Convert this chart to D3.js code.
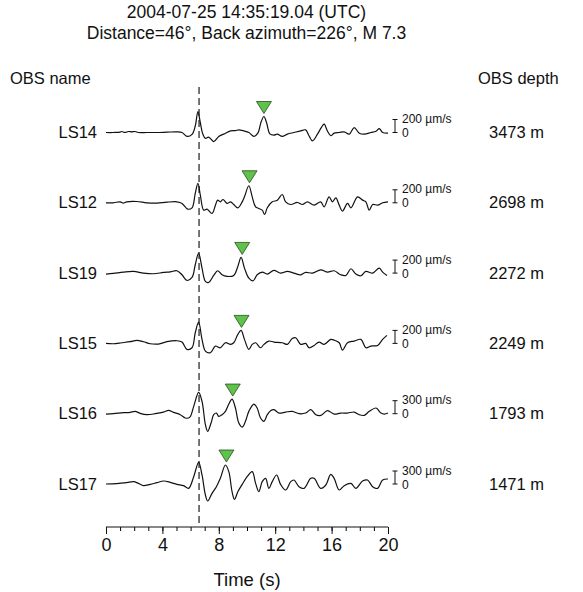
<!DOCTYPE html>
<html>
<head>
<meta charset="utf-8">
<script src="https://cdn.jsdelivr.net/npm/d3@7"></script>
<style>
  html, body { margin: 0; padding: 0; background: #fff; }
  svg { display: block; font-family: "Liberation Sans", Arial, sans-serif; }
</style>
</head>
<body>
<svg id="chart" width="583" height="592"></svg>
<script>
// Station metadata, top to bottom
const stations = ["LS14", "LS12", "LS19", "LS15", "LS16", "LS17"];
const depths = [3473, 2698, 2272, 2249, 1793, 1471];       // m
const scaleBars = [200, 200, 200, 200, 300, 300];          // µm/s per scale bar
const picks = [11.2, 10.18, 9.66, 9.61, 8.99, 8.54];        // picked arrival times (s)
const pArrival = 6.6;                                       // reference arrival (s)
const timeTicks = [0, 4, 8, 12, 16, 20];

// Vertical velocity traces: [time (s), velocity (µm/s)]
const ls14 = [[0,0],[0.52,0],[1.0,5],[1.12,15],[1.35,0],[1.59,15],[1.83,10],[2.06,15],[2.3,0],[2.89,0],[3.61,0],[4.32,5],[5.03,10],[5.39,0],[5.74,-60],[6.1,-30],[6.33,100],[6.52,323],[6.69,150],[6.86,-20],[7.05,-90],[7.28,-70],[7.64,-139],[8.0,-60],[8.35,-25],[8.83,25],[9.18,30],[9.42,40],[9.77,25],[10.13,0],[10.49,-60],[10.77,-10],[11.01,170],[11.2,246],[11.39,150],[11.62,-20],[11.91,-40],[12.15,-25],[12.5,-60],[12.86,-25],[13.33,0],[13.81,25],[14.16,40],[14.4,-50],[14.64,-128],[15.0,-25],[15.28,80],[15.47,128],[15.71,20],[15.94,-50],[16.18,-10],[16.54,0],[16.89,10],[17.25,-25],[17.6,75],[17.96,-10],[18.32,-25],[18.79,0],[19.15,20],[19.38,60],[19.62,0],[20,-10]];
const ls12 = [[0,0],[0.52,0],[1.0,15],[1.23,-5],[1.47,15],[2.18,20],[2.89,0],[3.61,-5],[4.32,10],[5.03,15],[5.39,-10],[5.79,-97],[6.1,-77],[6.33,144],[6.52,298],[6.69,118],[6.93,-113],[7.16,-97],[7.52,-164],[7.76,-36],[7.92,41],[8.11,15],[8.3,51],[8.59,-10],[8.83,15],[9.06,-26],[9.35,-77],[9.66,15],[9.82,92],[10.13,262],[10.37,92],[10.61,-62],[10.84,-87],[11.08,-113],[11.25,-180],[11.44,-77],[11.79,15],[12.15,41],[12.5,128],[12.74,15],[13.1,-26],[13.57,5],[13.93,-26],[14.28,15],[14.76,-36],[15.23,15],[15.47,-62],[15.82,92],[16.06,15],[16.3,77],[16.54,-36],[16.77,-128],[17.13,-10],[17.37,-77],[17.84,92],[18.2,41],[18.43,15],[18.67,-113],[18.91,-26],[19.26,-36],[19.62,0],[20,15]];
const ls19 = [[0,-15],[0.52,-5],[1.23,15],[1.95,26],[2.66,0],[3.37,-10],[4.08,10],[4.56,20],[5.03,36],[5.39,-26],[5.74,-113],[6.1,-67],[6.33,128],[6.57,308],[6.81,77],[7.05,-128],[7.28,-144],[7.64,-36],[7.92,36],[8.23,-26],[8.59,-51],[9.06,-36],[9.35,103],[9.58,241],[9.82,77],[10.13,-77],[10.44,-118],[10.72,-26],[11.08,15],[11.44,-15],[11.91,41],[12.38,0],[12.86,26],[13.33,0],[13.81,-26],[14.16,10],[14.64,0],[15.23,51],[15.71,15],[16.18,36],[16.65,-26],[17.01,-36],[17.37,67],[17.72,-15],[18.08,-41],[18.43,26],[18.91,0],[19.38,77],[19.62,15],[19.93,-36]];
const ls15 = [[0,0],[0.52,-5],[1.12,10],[1.71,26],[2.18,46],[2.66,26],[3.13,-5],[3.72,-10],[4.32,26],[5.03,41],[5.39,21],[5.74,-92],[6.1,-67],[6.33,164],[6.57,328],[6.81,62],[7.05,-118],[7.4,-144],[7.76,-41],[8.11,-67],[8.47,10],[8.83,-15],[9.06,10],[9.35,139],[9.58,200],[9.82,62],[10.13,-92],[10.37,-15],[10.61,10],[10.96,-67],[11.2,-15],[11.55,36],[11.91,21],[12.5,10],[12.86,-15],[13.21,77],[13.45,87],[13.81,-15],[14.16,0],[14.4,-67],[14.76,-31],[15.11,21],[15.47,-15],[15.94,62],[16.18,51],[16.54,10],[16.77,-103],[17.13,10],[17.6,36],[18.08,62],[18.43,-67],[18.79,-41],[19.26,-31],[19.62,62],[19.93,123]];
const ls16 = [[0,-8],[0.52,0],[1.23,23],[1.71,31],[2.06,54],[2.42,8],[2.89,-23],[3.49,0],[4.08,38],[4.44,77],[4.79,31],[5.27,-23],[5.62,-100],[5.93,-85],[6.22,169],[6.57,492],[6.81,285],[7.05,-254],[7.21,-408],[7.45,-215],[7.64,-23],[7.83,15],[8.0,-62],[8.23,-23],[8.47,54],[8.71,223],[8.94,338],[9.18,131],[9.42,-215],[9.66,-308],[9.89,-177],[10.13,54],[10.49,223],[10.72,131],[10.96,-100],[11.2,-177],[11.44,-23],[11.67,69],[11.91,92],[12.27,15],[12.74,38],[13.21,54],[13.69,0],[14.16,15],[14.52,92],[14.88,-23],[15.23,-38],[15.71,69],[16.18,-8],[16.65,15],[17.13,15],[17.6,38],[17.96,-23],[18.32,-38],[18.67,54],[19.15,131],[19.5,15],[19.74,-8],[20,15]];
const ls17 = [[0,0],[0.76,8],[1.47,31],[1.95,54],[2.3,15],[2.66,-38],[3.13,-8],[3.61,31],[4.08,69],[4.56,38],[5.03,-8],[5.5,-38],[5.86,-100],[6.22,169],[6.57,500],[6.81,208],[7.05,-254],[7.21,-392],[7.52,-215],[7.83,-62],[8.11,131],[8.47,438],[8.71,285],[8.94,-177],[9.11,-354],[9.35,-177],[9.66,-8],[10.01,169],[10.37,285],[10.61,15],[10.84,-177],[11.08,54],[11.32,131],[11.55,-100],[11.79,54],[12.1,208],[12.38,-8],[12.74,-138],[13.1,54],[13.33,92],[13.69,-62],[14.05,-100],[14.52,131],[14.76,131],[15.23,-100],[15.59,-23],[15.94,223],[16.18,131],[16.54,-138],[16.89,-38],[17.37,15],[17.72,-100],[18.2,69],[18.55,92],[18.91,-62],[19.26,-100],[19.62,92],[20,115]];
const traces = [ls14, ls12, ls19, ls15, ls16, ls17];

const svg = d3.select("#chart");

const x = d3.scaleLinear().domain([0, 20]).range([106, 388]);
const row = d3.scalePoint().domain(stations).range([132.5, 484]);
const barPx = 13;   // pixel height of one scale bar

// per-trace amplitude scale: scale bar value maps to barPx
const amp = i => d3.scaleLinear()
  .domain([0, scaleBars[i]])
  .range([row(stations[i]), row(stations[i]) - barPx]);

// Title
const title = svg.append("g").attr("font-size", 17.5).attr("fill", "#111").attr("text-anchor", "middle");
title.append("text").attr("x", 246.5).attr("y", 18).text("2004-07-25 14:35:19.04 (UTC)");
title.append("text").attr("x", 246.5).attr("y", 39).text("Distance=46°, Back azimuth=226°, M 7.3");

// Column headers
svg.append("text").attr("x", 10).attr("y", 84).attr("font-size", 16.5).attr("fill", "#111").text("OBS name");
svg.append("text").attr("x", 478).attr("y", 84).attr("font-size", 16.5).attr("fill", "#111").text("OBS depth");

// Reference arrival (dashed)
svg.append("line")
  .attr("x1", x(pArrival)).attr("x2", x(pArrival))
  .attr("y1", 87).attr("y2", 527)
  .attr("stroke", "#555").attr("stroke-width", 1.6)
  .attr("stroke-dasharray", "7,4");

const line = d3.line().curve(d3.curveCatmullRom.alpha(0.5));

stations.forEach((name, i) => {
  const y = amp(i);
  const base = row(name);
  const data = traces[i];

  svg.append("path")
    .attr("d", line(data.map(d => [x(d[0]), y(d[1])])))
    .attr("fill", "none").attr("stroke", "#111").attr("stroke-width", 1.2)
    .attr("stroke-linejoin", "round");

  // station name and depth
  svg.append("text").attr("x", 97).attr("y", base + 5.5).attr("text-anchor", "end")
    .attr("font-size", 16.5).attr("fill", "#111").text(name);
  svg.append("text").attr("x", 489).attr("y", base + 5.5)
    .attr("font-size", 16.5).attr("fill", "#111").text(depths[i] + " m");

  // scale bar
  const bx = 395, y0 = y(0), y1 = y(scaleBars[i]);
  const bar = svg.append("g").attr("stroke", "#111").attr("stroke-width", 1);
  bar.append("line").attr("x1", bx).attr("x2", bx).attr("y1", y0).attr("y2", y1);
  bar.append("line").attr("x1", bx - 2.5).attr("x2", bx + 2.5).attr("y1", y0).attr("y2", y0);
  bar.append("line").attr("x1", bx - 2.5).attr("x2", bx + 2.5).attr("y1", y1).attr("y2", y1);
  svg.append("text").attr("x", 402).attr("y", y1 + 3.5).attr("font-size", 12).attr("fill", "#111")
    .text(scaleBars[i] + " µm/s");
  svg.append("text").attr("x", 402).attr("y", y0 + 4.5).attr("font-size", 12).attr("fill", "#111")
    .text("0");

  // picked arrival marker above the local peak
  const near = data.filter(d => Math.abs(d[0] - picks[i]) < 0.35);
  const peakY = y(d3.max(near, d => d[1]));
  const tip = peakY - 3, px = x(picks[i]);
  svg.append("path")
    .attr("d", `M${px},${tip}L${px - 7.5},${tip - 12}L${px + 7.5},${tip - 12}Z`)
    .attr("fill", "#5fc24a").attr("stroke", "#2a4d22").attr("stroke-width", 0.8);
});

// Time axis
const axisY = 527;
const minor = d3.axisBottom(x).tickValues(d3.range(0, 21)).tickSize(4).tickFormat("");
const major = d3.axisBottom(x).tickValues(timeTicks).tickSize(7).tickPadding(4);
svg.append("g").attr("transform", `translate(0,${axisY})`).call(minor)
  .call(g => g.select(".domain").remove());
const gx = svg.append("g").attr("transform", `translate(0,${axisY})`).call(major);
gx.select(".domain").attr("d", `M${x(0)},0H${x(20)}`).attr("stroke", "#111");
gx.selectAll(".tick line").attr("stroke", "#111");
gx.selectAll("text").attr("font-size", 18).attr("fill", "#111")
  .attr("font-family", '"Liberation Sans", Arial, sans-serif');

svg.append("text").attr("x", 247).attr("y", 586).attr("text-anchor", "middle")
  .attr("font-size", 18.5).attr("fill", "#111").text("Time (s)");
</script>
</body>
</html>
